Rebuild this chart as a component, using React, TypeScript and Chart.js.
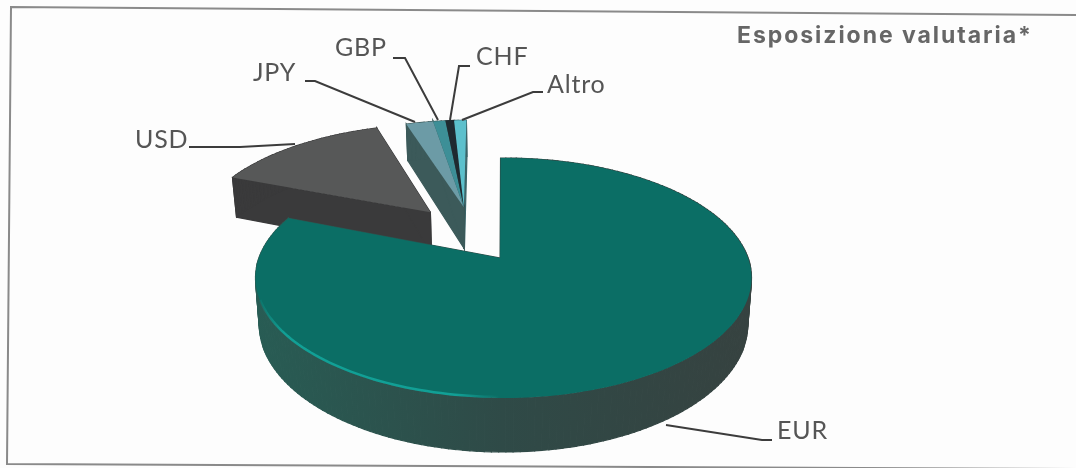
import React, { useEffect, useRef } from "react";
import { Chart, registerables } from "chart.js";

Chart.register(...registerables);

const categories = ["EUR", "USD", "JPY", "GBP", "CHF", "Altro"];
const shares = [81.1, 14.0, 2.2, 1.0, 0.7, 1.0];
const topColors = ["#0b6e65", "#575858", "#6c9ba6", "#3d8f97", "#1f2a30", "#5cc0cc"];
const sideColors = ["#2f4f4c", "#3a3a3b", "#3c5a5a", "#37595b", "#20282c", "#3b6468"];
const titleText = "Esposizione valutaria*";

const CX = 503.5, CY = 278, RX = 248, RY = 120, A = -1 / 6;
const circleCentre: [number, number][] = [[0, 0], [-0.32, -0.42], [-0.175, -0.47], [-0.175, -0.47], [-0.175, -0.47], [-0.175, -0.47]];
const apexPoint: [number, number][] = [[-0.014, 0], [-0.32, -0.42], [-0.175, -0.47], [-0.175, -0.47], [-0.175, -0.47], [-0.175, -0.47]];

const labelSpots: Record<string, [number, number]> = {
  USD: [135, 140], JPY: [253, 73], GBP: [335, 48], CHF: [476, 57], Altro: [547, 85], EUR: [777, 431],
};
const leaders: Record<string, number[][]> = {
  USD: [[189, 147], [240, 147], [295, 144]],
  JPY: [[305, 81], [315, 81], [415, 122]],
  GBP: [[393, 58], [405, 58], [438, 120]],
  CHF: [[470, 66], [459, 66], [450, 120]],
  Altro: [[543, 92], [533, 92], [462, 120]],
  EUR: [[666, 425], [762, 440], [772, 440]],
};

function project(u: number, v: number, depth = false): [number, number] {
  const s = 1 + A * v;
  const x = (RX * u * Math.sqrt(1 - A * A)) / s;
  const y = (RY * (v + A)) / s;
  if (!depth) return [CX + x, CY + y];
  return [CX + x * 0.985, CY + y + 45 / s];
}

function outline(el: any, i: number): [number, number][] {
  const { startAngle, endAngle } = el;
  const [ou, ov] = circleCentre[i];
  const n = Math.max(2, Math.ceil((endAngle - startAngle) * 40));
  const pts: [number, number][] = [apexPoint[i]];
  for (let k = 0; k <= n; k++) {
    const t = startAngle + ((endAngle - startAngle) * k) / n;
    pts.push([ou + Math.cos(t), ov + Math.sin(t)]);
  }
  return pts;
}

function trace(ctx: CanvasRenderingContext2D, pts: [number, number][]) {
  ctx.beginPath();
  pts.forEach((p, i) => (i ? ctx.lineTo(p[0], p[1]) : ctx.moveTo(p[0], p[1])));
  ctx.closePath();
}

const pie3d = {
  id: "pie3d",
  beforeDatasetDraw(chart: any) {
    const ctx: CanvasRenderingContext2D = chart.ctx;
    const meta = chart.getDatasetMeta(0);
    const shapes = meta.data.map((el: any, i: number) => outline(el, i));
    const drawSide = (i: number) => {
      const pts = shapes[i];
      let fill: any = sideColors[i];
      if (i === 0) {
        const g = ctx.createLinearGradient(255, 0, 750, 0);
        g.addColorStop(0, "#285c54");
        g.addColorStop(0.5, "#2f4a47");
        g.addColorStop(1, "#364240");
        fill = g;
      }
      ctx.fillStyle = fill;
      ctx.strokeStyle = fill;
      ctx.lineWidth = 1.2;
      pts.forEach((p, k) => {
        const q = pts[(k + 1) % pts.length];
        const a = project(p[0], p[1]);
        const b = project(q[0], q[1]);
        const c = project(q[0], q[1], true);
        const d = project(p[0], p[1], true);
        trace(ctx, [a, b, c, d]);
        ctx.fill();
        ctx.stroke();
      });
    };
    const drawTop = (i: number) => {
      trace(ctx, shapes[i].map((p: [number, number]) => project(p[0], p[1])));
      ctx.fillStyle = topColors[i];
      ctx.fill();
    };
    ctx.save();
    [5, 4, 3, 2].forEach(drawSide);
    [2, 3, 4, 5].forEach(drawTop);
    drawSide(1);
    drawTop(1);
    drawSide(0);
    drawTop(0);
    const rim = ctx.createLinearGradient(255, 0, 500, 0);
    rim.addColorStop(0, "rgba(18,160,150,0)");
    rim.addColorStop(0.12, "rgba(18,165,155,0.9)");
    rim.addColorStop(0.82, "rgba(18,165,155,0.9)");
    rim.addColorStop(1, "rgba(18,165,155,0)");
    ctx.strokeStyle = rim;
    ctx.lineWidth = 2.5;
    ctx.beginPath();
    let started = false;
    shapes[0].slice(1).forEach((p: [number, number]) => {
      const s = project(p[0], p[1]);
      if (s[0] > 255 && s[0] < 500 && s[1] > 300) {
        if (started) ctx.lineTo(s[0], s[1] - 1);
        else ctx.moveTo(s[0], s[1] - 1);
        started = true;
      }
    });
    ctx.stroke();
    ctx.restore();
    return false;
  },
  afterDraw(chart: any) {
    const ctx: CanvasRenderingContext2D = chart.ctx;
    ctx.save();
    ctx.strokeStyle = "#8a8a8a";
    ctx.lineWidth = 2;
    ctx.beginPath();
    ctx.moveTo(1076, 15);
    ctx.lineTo(11, 7);
    ctx.lineTo(7, 464);
    ctx.lineTo(1076, 469);
    ctx.stroke();
    ctx.strokeStyle = "#3c3c3c";
    ctx.lineWidth = 2;
    categories.forEach((name) => {
      const line = leaders[name];
      ctx.beginPath();
      line.forEach((p, i) => (i ? ctx.lineTo(p[0], p[1]) : ctx.moveTo(p[0], p[1])));
      ctx.stroke();
    });
    ctx.textBaseline = "middle";
    ctx.textAlign = "left";
    ctx.fillStyle = "#555555";
    ctx.font = "400 25px Lato";
    (ctx as any).letterSpacing = "0.8px";
    categories.forEach((name) => {
      const spot = labelSpots[name];
      ctx.fillText(name, spot[0], spot[1]);
    });
    ctx.fillStyle = "#666666";
    ctx.font = "700 23px Inter";
    (ctx as any).letterSpacing = "1.95px";
    ctx.fillText(titleText, 737, 36);
    ctx.restore();
  },
};

export default function App() {
  const ref = useRef<HTMLCanvasElement>(null);
  useEffect(() => {
    document.body.style.margin = "0";
    document.body.style.background = "#fdfdfd";
    const chart = new Chart(ref.current!, {
      type: "pie",
      data: {
        labels: categories,
        datasets: [{ data: shares, backgroundColor: topColors, borderWidth: 0 }],
      },
      options: {
        animation: false,
        responsive: false,
        rotation: -0.8,
        plugins: { legend: { display: false }, tooltip: { enabled: false } },
      },
      plugins: [pie3d],
    } as any);
    return () => chart.destroy();
  }, []);
  return <canvas ref={ref} width={1076} height={468} style={{ display: "block" }} />;
}
